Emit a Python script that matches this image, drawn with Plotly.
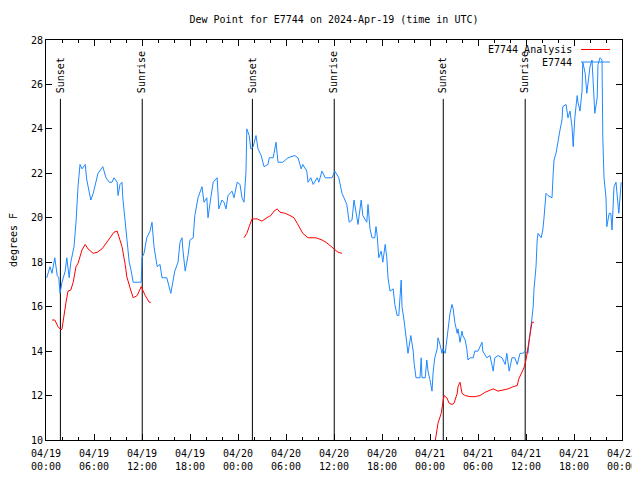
import pandas as pd
import plotly.graph_objects as go

# ---------------- data ----------------
base = pd.Timestamp("2024-04-19 00:00")

obs_hours = [0.1, 0.5, 0.75, 1.1, 1.4, 1.6, 1.75, 2.0, 2.4, 2.6, 2.9, 3.1, 3.5, 3.75, 4.0, 4.25, 4.5, 4.9,
             5.1, 5.6, 5.9, 6.25, 6.5, 6.9, 7.1, 7.5, 7.9, 8.25, 8.5, 8.9, 9.0, 9.25, 9.5, 9.6, 9.9, 10.1,
             10.4, 10.6, 10.9, 11.4, 11.9, 12.0, 12.25, 12.6, 13.0, 13.25, 13.5, 13.9, 14.25, 14.5, 15.1,
             15.6, 15.9, 16.1, 16.5, 16.75, 17.0, 17.1, 17.4, 17.75, 18.0, 18.4, 18.6, 19.0, 19.5, 19.75,
             20.1, 20.25, 20.6, 20.9, 21.4, 21.6, 22.0, 22.25, 22.5, 22.75, 23.25, 23.5, 23.9, 24.25, 24.5,
             24.75, 25.0, 25.1, 25.4, 25.6, 25.9, 26.25, 26.5, 26.9, 27.25, 27.75, 27.9, 28.4, 28.75, 29.0,
             29.6, 30.25, 31.1, 31.5, 31.9, 32.1, 32.6, 32.75, 33.1, 33.4, 33.9, 34.1, 34.5, 34.9, 35.75,
             36.1, 36.6, 37.0, 37.25, 37.6, 37.9, 38.25, 38.5, 38.75, 39.0, 39.4, 39.6, 40.1, 40.25, 40.5,
             40.75, 41.1, 41.25, 41.4, 41.6, 41.9, 42.1, 42.4, 42.6, 42.75, 43.0, 43.4, 43.6, 43.9, 44.1,
             44.4, 44.5, 44.75, 45.0, 45.25, 45.6, 45.9, 46.0, 46.25, 46.75, 46.9, 47.0, 47.4, 47.6, 47.75,
             48.0, 48.25, 48.4, 48.6, 48.9, 49.0, 49.25, 49.5, 49.6, 49.9, 50.1, 50.25, 50.5, 50.75, 50.9,
             51.1, 51.4, 51.5, 51.75, 52.0, 52.1, 52.4, 52.6, 52.75, 53.0, 53.4, 53.6, 54.0, 54.5, 54.6,
             55.1, 55.5, 55.9, 56.1, 56.5, 57.0, 57.4, 57.6, 57.9, 58.25, 58.6, 58.9, 59.25, 59.6, 59.9,
             60.25, 60.4, 60.75, 60.9, 61.0, 61.25, 61.4, 61.5, 61.9, 62.1, 62.25, 62.5, 62.75, 63.25, 63.4,
             63.5, 63.75, 64.0, 64.25, 64.5, 64.6, 65.0, 65.25, 65.5, 65.75, 65.9, 66.1, 66.4, 66.5, 66.75,
             67.0, 67.1, 67.4, 67.6, 67.75, 68.0, 68.25, 68.4, 68.6, 68.9, 69.0, 69.25, 69.5, 69.6, 69.75,
             70.0, 70.1, 70.4, 70.6, 70.75, 71.0, 71.25, 71.4, 71.6, 71.9]
obs_dewpoint = [17.3, 17.8, 17.5, 18.2, 17.4, 17.3, 16.6, 17.1, 17.6, 18.2, 17.3, 18.0, 18.7, 19.8, 21.4, 22.4,
                22.2, 22.4, 21.7, 20.8, 21.1, 21.7, 22.0, 22.2, 22.3, 21.8, 21.6, 21.6, 21.8, 21.6, 21.0,
                21.5, 21.6, 20.9, 19.8, 19.0, 18.0, 17.7, 17.1, 17.1, 17.1, 18.2, 18.4, 19.1, 19.4, 19.8,
                18.7, 17.8, 17.9, 17.3, 17.3, 16.6, 17.3, 17.6, 18.0, 18.9, 19.1, 18.6, 17.6, 18.3, 19.0,
                19.1, 20.1, 20.9, 21.4, 20.7, 20.9, 20.0, 20.9, 21.6, 21.8, 20.4, 20.8, 20.7, 20.4, 21.0,
                21.2, 20.9, 21.6, 21.5, 20.9, 20.7, 22.1, 24.0, 23.7, 23.1, 23.2, 23.7, 23.1, 22.8, 22.3,
                22.4, 22.7, 22.7, 23.4, 22.5, 22.5, 22.7, 22.8, 22.7, 22.2, 22.4, 22.1, 21.6, 21.8, 21.5,
                21.8, 21.6, 22.1, 21.8, 21.8, 22.1, 21.8, 21.1, 20.9, 20.6, 19.8, 19.9, 20.8, 20.2, 19.7,
                20.8, 20.1, 19.8, 20.6, 19.5, 19.1, 19.1, 19.6, 19.2, 18.2, 18.5, 18.0, 18.8, 18.2, 17.3,
                16.7, 16.8, 16.1, 15.6, 15.6, 17.2, 16.0, 15.4, 14.5, 13.9, 14.7, 14.0, 13.5, 12.8, 12.8,
                13.7, 12.8, 12.8, 13.6, 13.1, 12.7, 12.2, 13.1, 13.7, 14.1, 14.6, 14.3, 13.9, 14.1, 13.9,
                14.5, 15.0, 15.7, 16.1, 15.9, 15.3, 14.8, 15.0, 14.4, 14.9, 14.7, 14.5, 14.1, 13.6, 13.7,
                13.7, 14.0, 14.0, 14.4, 14.0, 13.7, 13.8, 13.1, 13.7, 13.8, 13.7, 13.4, 13.9, 13.1, 13.7,
                13.7, 13.4, 13.9, 13.9, 14.0, 13.9, 14.5, 15.5, 16.0, 16.8, 17.8, 19.0, 19.3, 19.1, 19.45,
                20.0, 21.1, 21.0, 20.9, 22.0, 22.6, 22.9, 23.5, 23.95, 24.4, 25.0, 25.1, 24.5, 24.8, 24.1,
                23.2, 24.5, 25.5, 25.2, 24.8, 25.7, 27.0, 26.5, 25.6, 26.1, 26.8, 27.1, 26.1, 24.7, 25.4,
                26.9, 27.2, 27.1, 23.6, 21.8, 20.9, 19.6, 20.2, 20.2, 19.45, 21.4, 21.6, 20.8, 20.2, 21.6]

ana_hours = [0.75, 1.1, 1.5, 1.9, 2.0, 2.25, 2.5, 2.75, 3.1, 3.4, 3.75, 4.0, 4.5, 4.9, 5.25, 5.9, 6.4, 7.0,
             7.6, 8.1, 8.5, 8.9, 9.1, 9.5, 9.9, 10.1, 10.5, 10.9, 11.4, 11.9, 12.4, 12.9, 13.1,
             None,
             24.75, 25.1, 25.4, 25.75, 26.4, 27.0, 27.6, 28.1, 28.5, 28.9, 29.25, 29.9, 30.5, 31.0, 31.4,
             31.75, 32.1, 32.75, 33.75, 34.5, 35.0, 35.5, 36.0, 36.5, 37.0,
             None,
             48.5, 48.75, 49.0, 49.4, 49.6, 49.75, 50.1, 50.4, 50.75, 51.0, 51.4, 51.5, 51.75, 52.0, 52.4,
             53.0, 53.6, 54.25, 54.9, 55.5, 55.9, 56.5, 57.1, 57.75, 58.4, 58.9, 59.1, 59.5, 59.75, 60.0,
             60.25, 60.5, 60.75, 61.0]
ana_dewpoint = [15.4, 15.4, 15.1, 14.95, 15.0, 15.7, 16.2, 16.7, 16.75, 17.1, 17.8, 17.95, 18.55, 18.8, 18.6,
                18.4, 18.45, 18.6, 18.9, 19.1, 19.35, 19.4, 19.15, 18.7, 17.9, 17.35, 16.85, 16.4, 16.5,
                16.9, 16.5, 16.2, 16.2,
                None,
                19.1, 19.3, 19.6, 19.95, 19.95, 19.85, 20.0, 20.1, 20.3, 20.4, 20.25, 20.2, 20.1, 20.0,
                19.75, 19.5, 19.3, 19.1, 19.1, 19.0, 18.9, 18.75, 18.6, 18.45, 18.4,
                None,
                9.6, 10.1, 10.75, 11.2, 11.6, 12.0, 11.9, 11.65, 11.6, 11.65, 12.1, 12.4, 12.6, 12.1, 12.0,
                11.95, 11.95, 12.0, 12.15, 12.25, 12.3, 12.2, 12.25, 12.3, 12.4, 12.45, 12.75, 13.1, 13.25,
                13.6, 14.2, 14.8, 15.3, 15.3]

sun_events = ["Sunset", "Sunrise", "Sunset", "Sunrise", "Sunset", "Sunrise"]
sun_hours = [1.8, 12.03, 25.8, 36.03, 49.66, 59.9]

title_text = "Dew Point for E7744 on 2024-Apr-19 (time in UTC)"
y_label = "degrees F"
obs_name = "E7744"
ana_name = "E7744 Analysis"

# ---------------- build ----------------
def to_time(hours):
    return [None if h is None else base + pd.Timedelta(hours=h) for h in hours]

FONT = "DejaVu Sans Mono"
FS = 10
BLUE = "#1e88ff"
RED = "#ff0000"

# page body has an 8px margin: figure spans page x 8..640, y 8..480
W, H = 632, 472
L, R, T, B = 38, 18, 32, 40
PW = W - L - R

fig = go.Figure()
fig.add_trace(go.Scatter(x=to_time(obs_hours), y=obs_dewpoint, mode="lines",
                         line=dict(color=BLUE, width=1), name=obs_name, showlegend=False))
fig.add_trace(go.Scatter(x=to_time(ana_hours), y=ana_dewpoint, mode="lines",
                         line=dict(color=RED, width=1), name=ana_name, showlegend=False,
                         connectgaps=False))

line_top = 25.35
for name, h in zip(sun_events, sun_hours):
    t = base + pd.Timedelta(hours=h)
    fig.add_shape(type="line", x0=t, x1=t, y0=10, y1=line_top, xref="x", yref="y",
                  line=dict(color="black", width=1), layer="below")
    fig.add_annotation(x=t, y=line_top, xref="x", yref="y", text=name, textangle=-90,
                       showarrow=False, xanchor="center", yanchor="bottom", yshift=4,
                       font=dict(family=FONT, size=FS, color="black"))

# legend (gnuplot style: text right-aligned, sample to the right)
for i, (nm, col) in enumerate([(ana_name, RED), (obs_name, BLUE)]):
    ypx = 49.5 + 12.5 * i
    yp = 1 - (ypx - 40) / 400
    fig.add_annotation(x=(574 - 46) / PW, y=yp, xref="paper", yref="paper", text=nm,
                       showarrow=False, xanchor="right", yanchor="middle",
                       font=dict(family=FONT, size=FS, color="black"))
    fig.add_shape(type="line", xref="paper", yref="paper",
                  x0=(581 - 46) / PW, x1=(610 - 46) / PW, y0=yp, y1=yp,
                  line=dict(color=col, width=1), layer="below")

fig.update_layout(
    width=W, height=H,
    margin=dict(l=L, r=R, t=T, b=B, autoexpand=False),
    paper_bgcolor="white", plot_bgcolor="white",
    font=dict(family=FONT, size=FS, color="black"),
    title=dict(text=title_text, x=(334 - 8) / W, xanchor="center", xref="container",
               y=1 - (19 - 8) / H, yanchor="middle", yref="container",
               font=dict(family=FONT, size=FS, color="black")),
    showlegend=False,
)
fig.update_xaxes(
    type="date", automargin=False,
    range=[base, base + pd.Timedelta(hours=72)],
    tick0=base, dtick=6 * 3600 * 1000,
    tickformat="%m/%d<br>%H:%M",
    ticks="inside", ticklen=6, tickcolor="black",
    ticklabelstandoff=4,
    showline=True, linecolor="black", linewidth=1, mirror="ticks",
    showgrid=False, zeroline=False,
    minor=dict(dtick=2 * 3600 * 1000, ticks="inside", ticklen=3, tickcolor="black", showgrid=False),
    tickfont=dict(family=FONT, size=FS),
)
fig.update_yaxes(
    automargin=False,
    range=[10, 28], dtick=2, tick0=10,
    ticks="inside", ticklen=6, tickcolor="black",
    showline=True, linecolor="black", linewidth=1, mirror="ticks",
    showgrid=False, zeroline=False,
    title=dict(text=y_label, standoff=12, font=dict(family=FONT, size=FS)),
    tickfont=dict(family=FONT, size=FS),
)

fig.write_html("out.html")
